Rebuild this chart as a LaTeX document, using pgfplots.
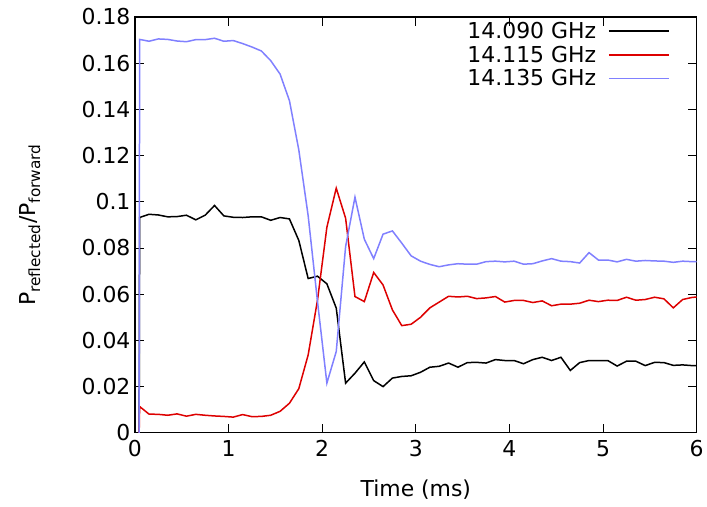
\documentclass[border=0pt]{standalone}
\usepackage{pgfplots}
\pgfplotsset{compat=1.18}
\usepackage{pgfplotstable}
\usepackage{fontspec}
\setmainfont{DejaVu Sans}
\definecolor{gred}{RGB}{221,0,0}
\definecolor{gblue}{RGB}{128,128,255}
\pgfplotstableread{
t b r u
0.045 0 0 0
0.05 0.0932 0.0114 0.1703
0.15 0.0946 0.0081 0.1695
0.25 0.0943 0.0080 0.1705
0.35 0.0935 0.0076 0.1703
0.45 0.0936 0.0082 0.1696
0.55 0.0942 0.0072 0.1693
0.65 0.0922 0.0080 0.1702
0.75 0.0942 0.0076 0.1702
0.85 0.0984 0.0073 0.1708
0.95 0.0939 0.0071 0.1695
1.05 0.0933 0.0068 0.1698
1.15 0.0932 0.0079 0.1685
1.25 0.0935 0.0070 0.1670
1.35 0.0935 0.0071 0.1653
1.45 0.0920 0.0076 0.1611
1.55 0.0932 0.0093 0.1553
1.65 0.0926 0.0128 0.1438
1.75 0.0833 0.0191 0.1225
1.85 0.0668 0.0337 0.0940
1.95 0.0678 0.0575 0.0568
2.05 0.0645 0.0890 0.0215
2.15 0.0540 0.1059 0.0352
2.25 0.0215 0.0929 0.0806
2.35 0.0258 0.0590 0.1020
2.45 0.0307 0.0568 0.0838
2.55 0.0226 0.0694 0.0754
2.65 0.0200 0.0640 0.0860
2.75 0.0237 0.0532 0.0874
2.85 0.0244 0.0464 0.0821
2.95 0.0247 0.0470 0.0766
3.05 0.0262 0.0500 0.0743
3.15 0.0284 0.0541 0.0729
3.25 0.0288 0.0566 0.0719
3.35 0.0302 0.0591 0.0727
3.45 0.0284 0.0588 0.0732
3.55 0.0304 0.0591 0.0730
3.65 0.0305 0.0581 0.0730
3.75 0.0302 0.0584 0.0741
3.85 0.0317 0.0590 0.0743
3.95 0.0313 0.0566 0.0740
4.05 0.0313 0.0573 0.0743
4.15 0.0299 0.0573 0.0730
4.25 0.0317 0.0564 0.0732
4.35 0.0327 0.0571 0.0744
4.45 0.0313 0.0550 0.0754
4.55 0.0327 0.0557 0.0743
4.65 0.0270 0.0557 0.0741
4.75 0.0304 0.0561 0.0735
4.85 0.0313 0.0574 0.0780
4.95 0.0313 0.0568 0.0748
5.05 0.0313 0.0574 0.0748
5.15 0.0289 0.0573 0.0740
5.25 0.0310 0.0587 0.0751
5.35 0.0310 0.0574 0.0743
5.45 0.0291 0.0577 0.0746
5.55 0.0305 0.0587 0.0744
5.65 0.0304 0.0580 0.0743
5.75 0.0292 0.0541 0.0738
5.85 0.0294 0.0577 0.0743
5.95 0.0291 0.0586 0.0741
6.05 0.0290 0.0590 0.0742
}\data
\begin{document}
\begin{tikzpicture}
\begin{axis}[
  scale only axis,
  width=562bp, height=416bp,
  xmin=0, xmax=6, ymin=0, ymax=0.18,
  font=\fontsize{22}{26}\selectfont,
  /pgf/number format/assume math mode=true,
  xtick={0,1,2,3,4,5,6},
  xticklabels={0,1,2,3,4,5,6},
  ytick={0,0.02,0.04,0.06,0.08,0.1,0.12,0.14,0.16,0.18},
  yticklabels={0,0.02,0.04,0.06,0.08,0.1,0.12,0.14,0.16,0.18},
  tick pos=both, tick align=inside,
  major tick length=9bp,
  tick style={black, line width=1bp},
  axis line style={line width=1.3bp},
  xticklabel style={yshift=-4bp},
  yticklabel style={xshift=-1bp},
  xlabel={Time (ms)},
  ylabel={P\textsubscript{reflected}/P\textsubscript{forward}},
  x label style={at={(axis description cs:0.5,-0.137)}, anchor=center},
  y label style={at={(axis description cs:-0.187,0.5)}, anchor=center},
  legend plot pos=right,
  legend cell align=right,
  legend image code/.code={\draw[#1] (0bp,0bp) -- (60bp,0bp);},
  legend style={draw=none, fill=none, at={(axis description cs:1,1)}, anchor=north east,
    xshift=-24bp, yshift=-1bp, row sep=2bp, column sep=10bp,
    font=\fontsize{22}{26}\selectfont},
  every axis plot/.append style={line width=1.5bp},
]
\addplot[black] table[x=t, y=b] {\data};
\addlegendentry{14.090 GHz}
\addplot[gred] table[x=t, y=r] {\data};
\addlegendentry{14.115 GHz}
\addplot[gblue] table[x=t, y=u] {\data};
\addlegendentry{14.135 GHz}
\end{axis}
\path (-135bp,-74bp) rectangle (572bp,433bp);
\end{tikzpicture}
\end{document}
